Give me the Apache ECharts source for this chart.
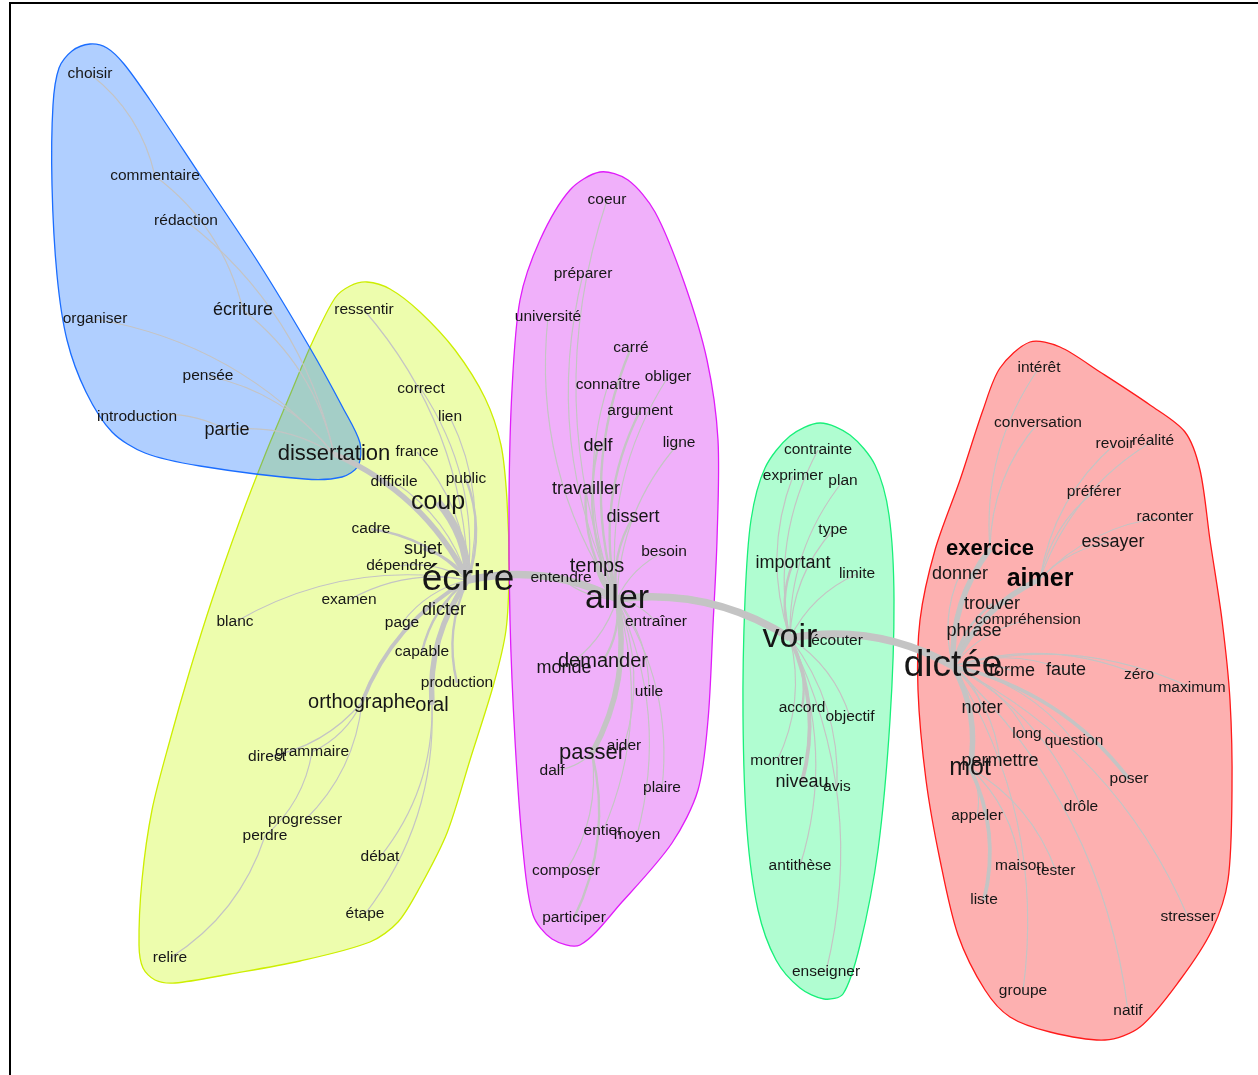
<!DOCTYPE html>
<html>
<head>
<meta charset="utf-8">
<script src="https://cdn.jsdelivr.net/npm/echarts@6/dist/echarts.min.js"></script>
<style>
  html, body { margin: 0; padding: 0; background: #fff; }
  #chart { width: 1258px; height: 1075px; }
</style>
</head>
<body>
<div id="chart"></div>
<script>
// mots : [libellé, x, y, classe de fréquence]
const motsBleu = [
  ['choisir', 90, 74, 1], ['commentaire', 155, 176, 1], ['rédaction', 186, 221, 1],
  ['écriture', 243, 310, 2], ['organiser', 95, 319, 1], ['pensée', 208, 376, 1],
  ['introduction', 137, 417, 1], ['partie', 227, 430, 2], ['dissertation', 334, 454, 4]
]
const motsJaune = [
  ['ressentir', 364, 310, 1], ['correct', 421, 389, 1], ['lien', 450, 417, 1],
  ['france', 417, 452, 1], ['difficile', 394, 482, 1], ['public', 466, 479, 1],
  ['coup', 438, 502, 5], ['cadre', 371, 529, 1], ['sujet', 423, 549, 2],
  ['dépendre', 399, 566, 1], ['écrire', 468, 580, 7], ['examen', 349, 600, 1],
  ['dicter', 444, 610, 2], ['blanc', 235, 622, 1], ['page', 402, 623, 1],
  ['capable', 422, 652, 1], ['production', 457, 683, 1], ['orthographe', 362, 702, 3],
  ['oral', 432, 705, 3], ['direct', 267, 757, 1], ['grammaire', 312, 752, 1],
  ['progresser', 305, 820, 1], ['perdre', 265, 836, 1], ['débat', 380, 857, 1],
  ['étape', 365, 914, 1], ['relire', 170, 958, 1]
]
const motsRose = [
  ['coeur', 607, 200, 1], ['préparer', 583, 274, 1], ['université', 548, 317, 1],
  ['carré', 631, 348, 1], ['connaître', 608, 385, 1], ['obliger', 668, 377, 1],
  ['argument', 640, 411, 1], ['delf', 598, 446, 2], ['ligne', 679, 443, 1],
  ['travailler', 586, 489, 2], ['dissert', 633, 517, 2], ['besoin', 664, 552, 1],
  ['temps', 597, 566, 3], ['entendre', 561, 578, 1], ['aller', 617, 599, 6],
  ['entraîner', 656, 622, 1], ['demander', 603, 661, 3], ['monde', 564, 668, 2],
  ['utile', 649, 692, 1], ['aider', 624, 746, 1], ['passer', 592, 753, 4],
  ['dalf', 552, 771, 1], ['plaire', 662, 788, 1], ['entier', 603, 831, 1],
  ['moyen', 637, 835, 1], ['composer', 566, 871, 1], ['participer', 574, 918, 1]
]
const motsVert = [
  ['contrainte', 818, 450, 1], ['exprimer', 793, 476, 1], ['plan', 843, 481, 1],
  ['type', 833, 530, 1], ['important', 793, 563, 2], ['limite', 857, 574, 1],
  ['voir', 790, 638, 6], ['écouter', 837, 641, 1], ['accord', 802, 708, 1],
  ['objectif', 850, 717, 1], ['montrer', 777, 761, 1], ['niveau', 802, 782, 2],
  ['avis', 837, 787, 1], ['antithèse', 800, 866, 1], ['enseigner', 826, 972, 1]
]
const motsRouge = [
  ['intérêt', 1039, 368, 1], ['conversation', 1038, 423, 1], ['revoir', 1115, 444, 1],
  ['réalité', 1153, 441, 1], ['préférer', 1094, 492, 1], ['raconter', 1165, 517, 1],
  ['essayer', 1113, 542, 2], ['exercice', 990, 549, 4], ['donner', 960, 574, 2],
  ['aimer', 1040, 579, 5], ['trouver', 992, 604, 2], ['compréhension', 1028, 620, 1],
  ['phrase', 974, 631, 2], ['dictée', 953, 666, 7], ['forme', 1012, 671, 2],
  ['faute', 1066, 670, 2], ['zéro', 1139, 675, 1], ['maximum', 1192, 688, 1],
  ['noter', 982, 708, 2], ['long', 1027, 734, 1], ['question', 1074, 741, 1],
  ['mot', 970, 768, 5], ['permettre', 1000, 761, 2], ['poser', 1129, 779, 1],
  ['drôle', 1081, 807, 1], ['appeler', 977, 816, 1], ['maison', 1020, 866, 1],
  ['tester', 1056, 871, 1], ['liste', 984, 900, 1], ['stresser', 1188, 917, 1],
  ['groupe', 1023, 991, 1], ['natif', 1128, 1011, 1]
]
const motsGras = ['exercice', 'aimer']

// liens : [source, cible, poids]
const liens = [
  ['choisir', 'commentaire', 1], ['commentaire', 'écriture', 1], ['écriture', 'dissertation', 1],
  ['rédaction', 'dissertation', 1], ['organiser', 'dissertation', 1], ['pensée', 'dissertation', 1],
  ['introduction', 'partie', 1], ['partie', 'dissertation', 1],
  ['dissertation', 'écrire', 4], ['coup', 'écrire', 5], ['ressentir', 'écrire', 1],
  ['correct', 'écrire', 1], ['lien', 'écrire', 1], ['france', 'écrire', 1],
  ['difficile', 'écrire', 1], ['public', 'écrire', 2], ['cadre', 'écrire', 2],
  ['sujet', 'écrire', 2], ['dépendre', 'écrire', 1], ['examen', 'écrire', 1],
  ['blanc', 'écrire', 1], ['dicter', 'écrire', 1], ['page', 'écrire', 1],
  ['capable', 'écrire', 2], ['production', 'écrire', 2], ['orthographe', 'écrire', 3],
  ['oral', 'écrire', 4], ['orthographe', 'direct', 1], ['orthographe', 'grammaire', 1],
  ['orthographe', 'progresser', 1], ['grammaire', 'perdre', 1], ['perdre', 'relire', 1],
  ['oral', 'débat', 1], ['oral', 'étape', 1],
  ['écrire', 'aller', 5], ['aller', 'voir', 5], ['voir', 'dictée', 5],
  ['aller', 'coeur', 1], ['aller', 'préparer', 1], ['aller', 'université', 1],
  ['aller', 'carré', 2], ['aller', 'connaître', 1], ['aller', 'obliger', 1],
  ['aller', 'argument', 2], ['aller', 'delf', 2], ['aller', 'ligne', 1],
  ['aller', 'travailler', 2], ['aller', 'dissert', 2], ['aller', 'besoin', 1],
  ['aller', 'temps', 3], ['aller', 'entendre', 1], ['aller', 'entraîner', 1],
  ['aller', 'demander', 2], ['aller', 'monde', 1], ['aller', 'utile', 1],
  ['aller', 'passer', 4], ['aller', 'aider', 1], ['aller', 'plaire', 1],
  ['aller', 'moyen', 1], ['aller', 'entier', 1], ['passer', 'dalf', 1],
  ['passer', 'composer', 1], ['passer', 'participer', 2],
  ['voir', 'contrainte', 1], ['voir', 'exprimer', 1], ['voir', 'plan', 1],
  ['voir', 'type', 1], ['voir', 'important', 2], ['voir', 'limite', 1],
  ['voir', 'écouter', 1], ['voir', 'accord', 2], ['voir', 'objectif', 1],
  ['voir', 'montrer', 1], ['voir', 'niveau', 3], ['voir', 'avis', 1],
  ['voir', 'antithèse', 1], ['voir', 'enseigner', 1],
  ['dictée', 'exercice', 4], ['exercice', 'intérêt', 1], ['exercice', 'conversation', 1],
  ['dictée', 'donner', 1], ['dictée', 'aimer', 4], ['aimer', 'revoir', 1],
  ['aimer', 'réalité', 1], ['aimer', 'préférer', 1], ['aimer', 'raconter', 1],
  ['aimer', 'essayer', 1], ['dictée', 'trouver', 2], ['dictée', 'compréhension', 1],
  ['dictée', 'phrase', 2], ['dictée', 'forme', 1], ['dictée', 'faute', 1],
  ['dictée', 'zéro', 1], ['dictée', 'maximum', 1], ['dictée', 'noter', 1],
  ['dictée', 'long', 1], ['dictée', 'question', 1], ['dictée', 'mot', 4],
  ['dictée', 'permettre', 1], ['dictée', 'poser', 3], ['dictée', 'drôle', 1],
  ['dictée', 'stresser', 1], ['dictée', 'natif', 1], ['dictée', 'groupe', 1],
  ['mot', 'appeler', 1], ['mot', 'liste', 3], ['mot', 'maison', 1], ['mot', 'tester', 1]
]

// contours des classes (halos)
const contourJaune = [[367,282],[390,289],[420,312],[455,350],[485,398],[501,445],[507,500],[509,570],[506,630],[494,683],[470,760],[447,833],[420,887],[398,922],[370,942],[300,961],[230,974],[175,983],[155,980],[143,968],[139,945],[142,880],[152,810],[170,740],[190,670],[212,600],[240,520],[265,455],[290,395],[312,343],[335,298],[350,286]]
const contourBleu = [[90,44],[107,48],[124,64],[150,100],[200,175],[258,262],[310,348],[343,408],[360,443],[358,466],[342,477],[305,479],[200,466],[145,453],[112,432],[86,392],[67,340],[57,275],[52,185],[53,105],[59,68],[72,51]]
const contourRose = [[600,172],[628,180],[655,212],[684,282],[707,360],[718,440],[717,540],[713,625],[708,720],[698,790],[672,843],[622,902],[580,945],[552,939],[533,915],[523,850],[515,740],[510,620],[509,500],[512,390],[520,300],[540,240],[570,190]]
const contourVert = [[820,423],[850,435],[875,465],[889,515],[894,600],[890,720],[878,850],[860,945],[843,994],[824,999],[800,988],[776,960],[758,910],[747,830],[743,716],[745,600],[751,520],[765,468],[790,436]]
const contourRouge = [[1030,342],[1060,347],[1100,372],[1150,405],[1185,432],[1200,470],[1210,540],[1222,620],[1230,700],[1232,790],[1228,880],[1212,930],[1180,980],[1140,1027],[1105,1040],[1050,1032],[1010,1017],[985,990],[958,935],[940,860],[926,780],[918,690],[920,620],[935,550],[960,480],[983,410],[1000,368]]

const classes = [
  { mots: motsJaune, contour: contourJaune, fill: 'rgba(200,248,0,0.32)', stroke: '#cdee00' },
  { mots: motsBleu, contour: contourBleu, fill: 'rgba(0,100,255,0.31)', stroke: '#1a6dff' },
  { mots: motsRose, contour: contourRose, fill: 'rgba(205,0,240,0.31)', stroke: '#e01cfa' },
  { mots: motsVert, contour: contourVert, fill: 'rgba(0,248,105,0.31)', stroke: '#18f07a' },
  { mots: motsRouge, contour: contourRouge, fill: 'rgba(250,0,0,0.31)', stroke: '#ff1a1a' }
]

const taillePolice = { 1: 15.5, 2: 18, 3: 20, 4: 22, 5: 25, 6: 34, 7: 37 }
const epaisseur = { 1: 1.2, 2: 2.4, 3: 3.8, 4: 5.5, 5: 7.5 }

const chart = echarts.init(document.getElementById('chart'))

const noeuds = []
classes.forEach(c => {
  c.mots.forEach(m => {
    const gras = motsGras.indexOf(m[0]) >= 0
    noeuds.push({
      name: m[0],
      value: [m[1], m[2]],
      label: {
        fontSize: taillePolice[m[3]],
        fontWeight: gras ? 'bold' : 'normal',
        color: gras ? '#050505' : '#161616'
      }
    })
  })
})

const option = {
  animation: false,
  grid: { left: 0, right: 0, top: 0, bottom: 0 },
  xAxis: { type: 'value', min: 0, max: 1258, show: false },
  yAxis: { type: 'value', min: 0, max: 1075, inverse: true, show: false },
  graphic: [{
    type: 'rect', z: 100,
    shape: { x: 10, y: 3, width: 1300, height: 1200 },
    style: { fill: 'none', stroke: '#000', lineWidth: 2 }
  }],
  series: [
    {
      type: 'custom',
      coordinateSystem: 'cartesian2d',
      clip: false,
      z: 1,
      silent: true,
      data: classes.map((c, i) => [c.contour[0][0], c.contour[0][1], i]),
      renderItem: function (params, api) {
        const c = classes[params.dataIndex]
        const pts = c.contour.map(p => api.coord(p))
        return {
          type: 'polygon',
          shape: { points: pts, smooth: 0.3 },
          style: { fill: c.fill, stroke: c.stroke, lineWidth: 1.3 }
        }
      }
    },
    {
      type: 'graph',
      coordinateSystem: 'cartesian2d',
      z: 2,
      silent: true,
      symbolSize: 1,
      itemStyle: { color: 'rgba(0,0,0,0)' },
      label: {
        show: true,
        position: 'inside',
        fontFamily: 'Liberation Sans, Arial, sans-serif'
      },
      lineStyle: { color: '#c4c4c4', opacity: 1, curveness: 0.18 },
      data: noeuds,
      links: liens.map(l => ({
        source: l[0],
        target: l[1],
        lineStyle: { width: epaisseur[l[2]] }
      }))
    }
  ]
}

chart.setOption(option)
</script>
</body>
</html>
